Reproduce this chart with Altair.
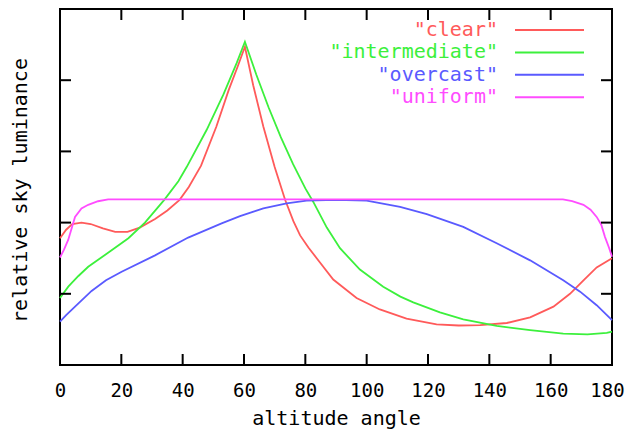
import altair as alt
import pandas as pd

series = ["clear", "intermediate", "overcast", "uniform"]
labels = ['"clear"', '"intermediate"', '"overcast"', '"uniform"']
colors = ["#ff5a5a", "#3cf03c", "#5a5aff", "#ff4cff"]

clear_x = [0, 2, 4, 7, 10, 14, 18, 22, 26, 31, 35, 39, 42, 46, 51, 55, 58, 60.3,
           63, 66.3, 70, 73.4, 76.1, 78.3, 81, 83.7, 89.1, 96.7, 104.3, 113, 122.8,
           130, 137, 145.7, 153.3, 160.9, 166.3, 170.7, 175, 180]
clear_y = [1.78, 1.90, 1.98, 2.00, 1.98, 1.92, 1.87, 1.87, 1.93, 2.05, 2.17, 2.32,
           2.50, 2.80, 3.35, 3.86, 4.20, 4.47, 3.93, 3.35, 2.78, 2.32, 2.02, 1.82,
           1.65, 1.50, 1.20, 0.94, 0.78, 0.65, 0.57, 0.555, 0.56, 0.59, 0.67, 0.82,
           1.00, 1.19, 1.37, 1.50]

inter_x = [0, 2.7, 6, 9.2, 15.8, 22.3, 27.7, 34, 38.6, 41.3, 47.8, 53.3, 57.6, 60.3,
           64, 68, 72, 76, 80, 82.6, 87, 91.3, 97.8, 105.4, 111, 115.2, 123.9, 131.5,
           142.4, 153.3, 164.1, 172, 178.3, 180]
inter_y = [0.94, 1.10, 1.25, 1.38, 1.58, 1.78, 2.00, 2.32, 2.58, 2.78, 3.30, 3.80,
           4.24, 4.54, 4.08, 3.62, 3.20, 2.82, 2.48, 2.29, 1.93, 1.64, 1.34, 1.10,
           0.96, 0.88, 0.74, 0.64, 0.55, 0.49, 0.44, 0.43, 0.45, 0.47]

over_x = [0, 2, 4.9, 10.3, 15, 20.1, 31, 41.8, 52.7, 58.7, 63.6, 66.3, 73.9, 80.4,
          90, 100, 110.9, 119.6, 131.5, 142.4, 153.3, 164.1, 169.6, 175, 180]
over_y = [0.61, 0.70, 0.82, 1.04, 1.19, 1.31, 1.54, 1.79, 1.99, 2.09, 2.16, 2.20,
          2.27, 2.31, 2.32, 2.31, 2.22, 2.12, 1.94, 1.71, 1.47, 1.19, 1.03, 0.84, 0.63]

unif_x = [0, 1.3, 2.7, 4, 4.9, 7, 9.2, 12.4, 15.7, 164, 167, 170.7, 173, 175,
          176.5, 177.7, 179, 180]
unif_y = [1.51, 1.62, 1.76, 1.95, 2.08, 2.20, 2.25, 2.30, 2.325, 2.325, 2.30, 2.25,
          2.18, 2.08, 1.97, 1.80, 1.65, 1.52]

x_ticks = [0, 20, 40, 60, 80, 100, 120, 140, 160, 180]
x_inner_ticks = [20, 40, 60, 80, 100, 120, 140, 160]
y_ticks = [1, 2, 3, 4]

W, H = 552, 356
FONT = "DejaVu Sans Mono"

xs = alt.Scale(domain=[0, 180], nice=False, zero=False)
ys = alt.Scale(domain=[0, 5], nice=False, zero=False)

xaxis = alt.Axis(values=x_ticks, ticks=False, tickSize=0, domain=False, grid=False,
                 labelFont=FONT, labelFontSize=19, labelColor="black", labelPadding=16,
                 labelFlush=False, labelOverlap=False,
                 labelOffset={"condition": {"test": "datum.value === 180", "value": -5},
                              "value": 0},
                 title="altitude angle", titleFont=FONT, titleFontSize=20,
                 titleFontWeight="normal", titleColor="black", titleX=W / 2,
                 titleY=59, titleBaseline="alphabetic")
yaxis = alt.Axis(labels=False, ticks=False, tickSize=0, domain=False, grid=False,
                 title="relative sky luminance", titleFont=FONT, titleFontSize=20,
                 titleFontWeight="normal", titleColor="black", titleX=-34,
                 titleY=181, titleAngle=270, titleBaseline="alphabetic",
                 titleAlign="center")

layers = []
for xv, yv, col in [(clear_x, clear_y, colors[0]), (inter_x, inter_y, colors[1]),
                    (over_x, over_y, colors[2]), (unif_x, unif_y, colors[3])]:
    df = pd.DataFrame({"angle": xv, "lum": yv})
    layers.append(
        alt.Chart(df).mark_line(color=col, strokeWidth=1.8, interpolate="linear")
        .encode(x=alt.X("angle:Q", scale=xs, axis=xaxis),
                y=alt.Y("lum:Q", scale=ys, axis=yaxis))
    )

xt = pd.DataFrame({"angle": x_inner_ticks})
yt = pd.DataFrame({"lum": y_ticks})
tick_bottom = alt.Chart(xt).mark_rule(color="black", strokeWidth=2).encode(
    x=alt.X("angle:Q", scale=xs, axis=xaxis), y=alt.value(H), y2=alt.value(H - 11))
tick_top = alt.Chart(xt).mark_rule(color="black", strokeWidth=2).encode(
    x=alt.X("angle:Q", scale=xs, axis=xaxis), y=alt.value(0), y2=alt.value(11))
tick_left = alt.Chart(yt).mark_rule(color="black", strokeWidth=2).encode(
    y=alt.Y("lum:Q", scale=ys, axis=yaxis), x=alt.value(0), x2=alt.value(11))
tick_right = alt.Chart(yt).mark_rule(color="black", strokeWidth=2).encode(
    y=alt.Y("lum:Q", scale=ys, axis=yaxis), x=alt.value(W - 11), x2=alt.value(W))

leg = pd.DataFrame({"label": labels, "color": colors, "idx": list(range(len(series)))})
leg_base = alt.Chart(leg).transform_calculate(
    ly="5 - (21 + 22.4 * datum.idx) / 71.2",
    ty="5 - (27 + 22.4 * datum.idx) / 71.2",
)
leg_text = leg_base.mark_text(align="right", baseline="alphabetic", font=FONT,
                              fontSize=20).encode(
    x=alt.value(438),
    y=alt.Y("ty:Q", scale=ys, axis=yaxis),
    text="label:N",
    color=alt.Color("color:N", scale=None),
)
leg_rule = leg_base.mark_rule(strokeWidth=2).encode(
    x=alt.value(455), x2=alt.value(524),
    y=alt.Y("ly:Q", scale=ys, axis=yaxis),
    color=alt.Color("color:N", scale=None),
)

chart = alt.layer(*layers, tick_bottom, tick_top, tick_left, tick_right,
                  leg_rule, leg_text).properties(
    width=W, height=H, autosize="none",
    padding={"left": 52, "top": 1, "right": 13, "bottom": 64},
    background="white",
).configure_view(stroke="black", strokeWidth=2)

chart.save("out.html", embed_options={"renderer": "svg", "actions": False})
